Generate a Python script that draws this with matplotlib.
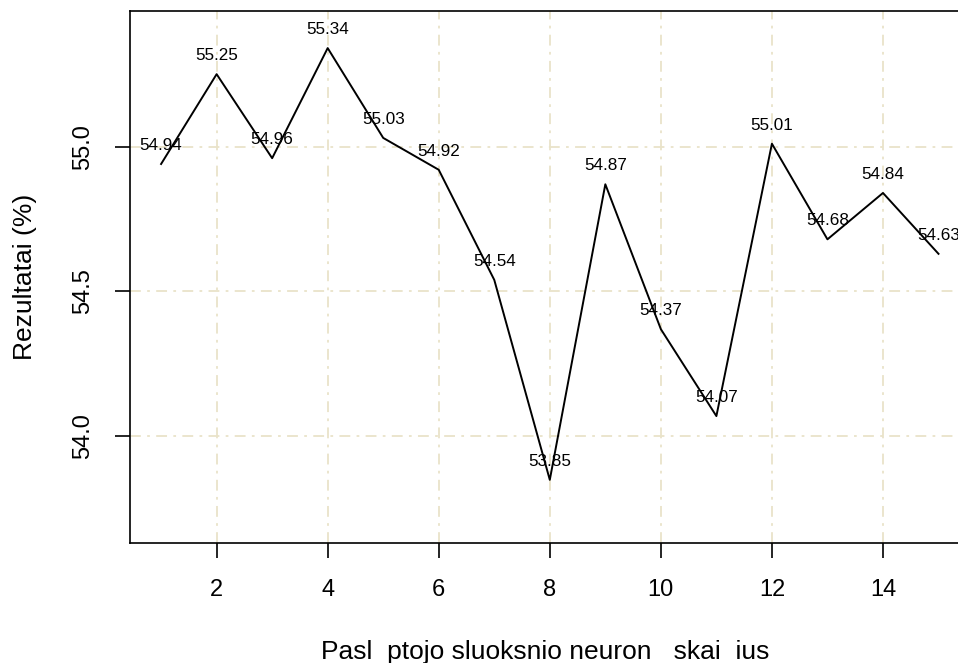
import matplotlib
matplotlib.use("Agg")
import matplotlib.pyplot as plt

plt.rcParams['font.family'] = ['Liberation Sans', 'DejaVu Sans']

neurons = list(range(1, 16))
results = [54.94, 55.25, 54.96, 55.34, 55.03, 54.92, 54.54, 53.85,
           54.87, 54.37, 54.07, 55.01, 54.68, 54.84, 54.63]
x_ticks = [2, 4, 6, 8, 10, 12, 14]
y_ticks = [54.0, 54.5, 55.0]
x_label = "Pasl  ptojo sluoksnio neuron   skai  ius"
y_label = "Rezultatai (%)"

W, H = 958, 663
fig = plt.figure(figsize=(W / 100, H / 100), dpi=100)
left, right, top, bottom = 130, 969.6, 11, 543
ax = fig.add_axes([left / W, (H - bottom) / H, (right - left) / W, (bottom - top) / H])

ax.set_xlim(0.44, 15.56)
ax.set_ylim(53.632, 55.468)

grid_kw = dict(color='#E9E3C9', lw=1.3, dashes=(6, 3.5, 1.5, 3.5), zorder=0)
for xt in x_ticks:
    ax.axvline(xt, **grid_kw)
for yt in y_ticks:
    ax.axhline(yt, **grid_kw)

ax.plot(neurons, results, color='black', lw=1.4, zorder=2)
for xv, yv in zip(neurons, results):
    ax.annotate(f"{yv:.2f}", (xv, yv), xytext=(0, 8), textcoords='offset points',
                ha='center', va='bottom', fontsize=12.3, color='black',
                annotation_clip=False, zorder=3)

ax.set_xticks(x_ticks)
ax.set_yticks(y_ticks)
ax.set_yticklabels([f"{v:.1f}" for v in y_ticks], rotation=90, va='center')
ax.tick_params(axis='both', labelsize=17, length=11, width=1.2, direction='out')
ax.tick_params(axis='x', pad=15)
ax.tick_params(axis='y', pad=15)
for s in ax.spines.values():
    s.set_linewidth(1.2)
    s.set_color('black')

fig.text(545 / W, 1 - 652 / H, x_label, ha='center', va='center', fontsize=19)
fig.text(25 / W, 1 - ((top + bottom) / 2) / H, y_label, ha='center', va='center',
         rotation=90, fontsize=19)

fig.savefig("out.png", dpi=100)
